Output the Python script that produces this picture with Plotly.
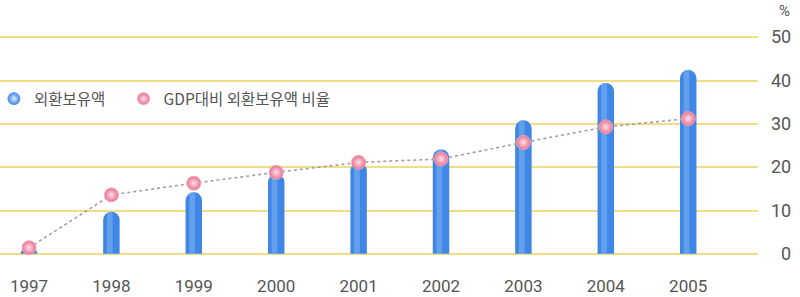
import plotly.graph_objects as go

years = ["1997", "1998", "1999", "2000", "2001", "2002", "2003", "2004", "2005"]
reserves = [1.0, 9.7, 14.2, 18.4, 21.0, 24.1, 30.8, 39.4, 42.4]
gdp_ratio = [1.4, 13.6, 16.3, 18.8, 21.1, 21.9, 25.7, 29.3, 31.2]
y_ticks = [0, 10, 20, 30, 40, 50]
y_tick_labels = ["\u20070", "10", "20", "30", "40", "50"]
series_names = ["외환보유액", "GDP대비 외환보유액 비율"]

fig = go.Figure()

fig.add_trace(go.Bar(
    x=years, y=reserves, width=0.2,
    marker=dict(color="#3f86e6", line=dict(width=0)),
    showlegend=False, hoverinfo="x+y",
))
fig.add_trace(go.Bar(
    x=years, y=reserves, width=0.07, offset=-0.055,
    marker=dict(color="#8ec0f7", line=dict(width=0), opacity=0.45),
    showlegend=False, hoverinfo="skip",
))
fig.add_trace(go.Scatter(
    x=years, y=gdp_ratio, mode="lines+markers",
    line=dict(color="#a0a0a0", width=1.6, dash="dot"),
    marker=dict(size=14, color="#e8708f",
                gradient=dict(type="radial", color="#fde0e8"),
                line=dict(color="#f2a4b8", width=1)),
    showlegend=False, cliponaxis=False,
))
# legend entries
fig.add_trace(go.Scatter(
    x=[None], y=[None], mode="markers", name=series_names[0], legend="legend",
    marker=dict(size=12, color="#3f86e6",
                gradient=dict(type="radial", color="#e0f0ff"),
                line=dict(color="#5b9cf0", width=1)),
))
fig.add_trace(go.Scatter(
    x=[None], y=[None], mode="markers", name=series_names[1], legend="legend2",
    marker=dict(size=12, color="#e8708f",
                gradient=dict(type="radial", color="#fde0e8"),
                line=dict(color="#f2a4b8", width=1)),
))

legend_font = dict(family="'Noto Sans CJK KR', sans-serif", size=15.5, color="#555555")
grid_color = "#f0dd86"

fig.update_layout(
    width=800, height=297,
    margin=dict(l=0, r=42, t=35, b=41, autoexpand=False),
    paper_bgcolor="white", plot_bgcolor="white",
    barmode="overlay", barcornerradius=8,
    font=dict(family="Roboto, 'Noto Sans CJK KR', sans-serif", color="#555555"),
    showlegend=True,
    legend=dict(
        orientation="h", x=-0.008, y=0.71, xanchor="left", yanchor="middle",
        font=legend_font, bgcolor="rgba(0,0,0,0)", itemwidth=30,
    ),
    legend2=dict(
        orientation="h", x=0.163, y=0.71, xanchor="left", yanchor="middle",
        font=legend_font, bgcolor="rgba(0,0,0,0)", itemwidth=30,
    ),
    xaxis=dict(
        range=[-0.352, 8.847], automargin=False,
        showgrid=False, zeroline=False, showline=False, ticks="",
        tickfont=dict(size=17, color="#555555"), ticklabelstandoff=18,
    ),
    yaxis=dict(
        range=[-0.5, 50.5], tickvals=y_ticks, ticktext=y_tick_labels,
        side="right", automargin=False, ticklabelstandoff=12,
        showgrid=True, gridcolor=grid_color, gridwidth=1.5,
        zeroline=True, zerolinecolor=grid_color, zerolinewidth=1.5,
        showline=False, ticks="",
        tickfont=dict(size=18, color="#555555"),
    ),
    annotations=[dict(
        text="%", xref="paper", yref="paper", x=1.0, y=1.0, xshift=34,
        xanchor="right", yanchor="bottom", yshift=13, showarrow=False,
        font=dict(size=15, color="#555555"),
    )],
)

fig.write_html("out.html", post_script="document.body.style.margin='0';",
               config={"displayModeBar": False})
